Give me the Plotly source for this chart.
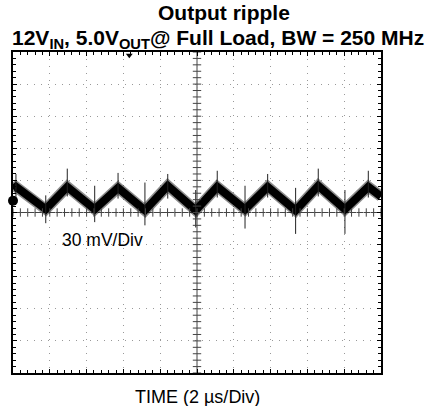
import plotly.graph_objects as go

# ---- data read from the scope capture (time in µs, voltage in mV) ----
wave_t = [0.0, 0.16, 1.78, 2.95, 4.44, 5.71, 7.17, 8.41, 9.93, 11.10,
          12.61, 13.84, 15.36, 16.59, 18.04, 19.31, 20.0]
wave_v = [22, 24, 3, 24, 3, 23, 2, 25, 2, 24, 3, 24, 2, 25, 3, 24, 15]

spike_t = [0.16, 1.78, 2.95, 4.44, 5.71, 7.17, 8.41, 9.93, 11.10,
           12.61, 13.84, 15.36, 16.59, 18.04, 19.31]
spike_lo = [14, -10, 15, -9, 13, -12, 13, -14, 14, -15, 14, -20, 15, -20, 14]
spike_hi = [36, 16, 41, 25, 37, 28, 36, 21, 39, 25, 36, 23, 41, 21, 39]

x_range = [0, 20]      # 10 div x 2 µs
y_range = [-150, 150]  # 10 div x 30 mV
x_major, x_minor = 2, 0.4
y_major, y_minor = 30, 6

marker_level = 11      # channel ground marker (mV)
trigger_time = 6.32    # trigger position marker (µs)

FONT = "Liberation Sans, Arial, sans-serif"

fig = go.Figure()

# fuzzy envelope + core of the noisy trace
fig.add_trace(go.Scatter(x=wave_t, y=wave_v, mode="lines",
                         line=dict(color="rgba(0,0,0,0.45)", width=11),
                         hoverinfo="skip", showlegend=False))
fig.add_trace(go.Scatter(x=wave_t, y=wave_v, mode="lines",
                         line=dict(color="black", width=8),
                         hoverinfo="skip", showlegend=False))

# switching spikes
sx, sy = [], []
for t, lo, hi in zip(spike_t, spike_lo, spike_hi):
    sx += [t, t, None]
    sy += [lo, hi, None]
fig.add_trace(go.Scatter(x=sx, y=sy, mode="lines",
                         line=dict(color="#222", width=1),
                         hoverinfo="skip", showlegend=False))

# center cross-hair ticks
nx = int(round((x_range[1] - x_range[0]) / x_minor))
ny = int(round((y_range[1] - y_range[0]) / y_minor))
cx = [x_range[0] + i * x_minor for i in range(nx + 1)]
cy = [y_range[0] + i * y_minor for i in range(ny + 1)]
xc = (x_range[0] + x_range[1]) / 2
fig.add_trace(go.Scatter(x=cx, y=[0] * len(cx), mode="markers",
                         marker=dict(symbol="line-ns-open", size=6, color="#444",
                                     line=dict(color="#444", width=1)),
                         hoverinfo="skip", showlegend=False))
fig.add_trace(go.Scatter(x=[xc] * len(cy), y=cy, mode="markers",
                         marker=dict(symbol="line-ew-open", size=6, color="#444",
                                     line=dict(color="#444", width=1)),
                         hoverinfo="skip", showlegend=False))

# channel marker and trigger marker
fig.add_trace(go.Scatter(x=[x_range[0]], y=[marker_level], mode="markers",
                         marker=dict(symbol="circle", size=10, color="black"),
                         cliponaxis=False, hoverinfo="skip", showlegend=False))
fig.add_trace(go.Scatter(x=[trigger_time], y=[147], mode="markers",
                         marker=dict(symbol="triangle-down", size=6, color="black"),
                         cliponaxis=False, hoverinfo="skip", showlegend=False))

fig.add_shape(type="line", x0=x_range[0], x1=x_range[1], y0=0, y1=0,
              line=dict(color="#444", width=1), layer="below")
fig.add_shape(type="line", x0=xc, x1=xc, y0=y_range[0], y1=y_range[1],
              line=dict(color="#444", width=1), layer="below")

fig.update_xaxes(range=x_range, showticklabels=False, zeroline=False,
                 showline=True, linecolor="black", linewidth=2, mirror="ticks",
                 ticks="inside", ticklen=4, tickcolor="black", dtick=x_major, tick0=0,
                 showgrid=True, gridcolor="#999", gridwidth=1, griddash="1px,6px",
                 minor=dict(ticks="inside", ticklen=3, tickcolor="black",
                            dtick=x_minor, showgrid=False))
fig.update_yaxes(range=y_range, showticklabels=False, zeroline=False,
                 showline=True, linecolor="black", linewidth=2, mirror="ticks",
                 ticks="inside", ticklen=4, tickcolor="black", dtick=y_major, tick0=0,
                 showgrid=True, gridcolor="#999", gridwidth=1, griddash="1px,6px",
                 minor=dict(ticks="inside", ticklen=3, tickcolor="black",
                            dtick=y_minor, showgrid=False))

fig.add_annotation(x=4.84, y=-26, text="30 mV/Div", showarrow=False,
                   font=dict(family=FONT, size=17.5, color="black"))
fig.add_annotation(xref="paper", yref="paper", x=0.501, y=-0.075,
                   text="TIME (2 µs/Div)", showarrow=False, yanchor="middle",
                   font=dict(family=FONT, size=18, color="black"))
fig.add_annotation(xref="paper", yref="paper", x=0.5747, y=1.1246,
                   text="<b>Output ripple</b>", showarrow=False, yanchor="middle",
                   font=dict(family=FONT, size=21, color="black"))
fig.add_annotation(xref="paper", yref="paper", x=0.557, y=1.0405,
                   text="<b>12V<sub>IN</sub>, 5.0V<sub>OUT</sub>@ Full Load, BW = 250 MHz</b>",
                   showarrow=False, yanchor="middle",
                   font=dict(family=FONT, size=21, color="black"))

fig.update_layout(width=435, height=406, autosize=False,
                  margin=dict(l=13, r=54, t=52, b=33),
                  plot_bgcolor="white", paper_bgcolor="white",
                  showlegend=False)

fig.write_html("out.html", config={"displayModeBar": False},
               post_script="document.body.style.margin='0';document.body.style.padding='0';")
